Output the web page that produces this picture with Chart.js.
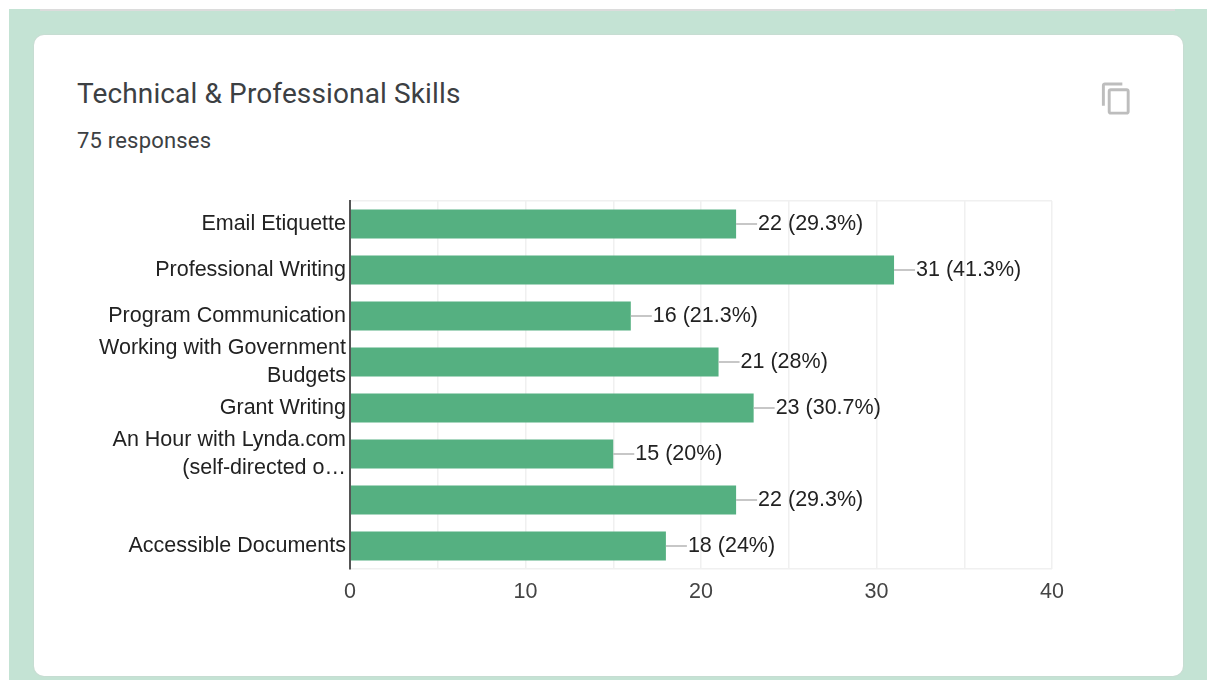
<!DOCTYPE html>
<html>
<head>
<meta charset="utf-8">
<title>Technical & Professional Skills</title>
<script src="https://cdn.jsdelivr.net/npm/chart.js@4/dist/chart.umd.min.js"></script>
<style>
  html, body { margin: 0; padding: 0; width: 1207px; height: 680px; overflow: hidden; background: #fff; }
  .page { position: absolute; left: 9px; top: 9px; width: 1198px; height: 671px; background: #c4e3d4; }
  .topline { position: absolute; left: 31px; top: 0; width: 1135px; height: 1.5px; background: #dcdcdc; }
  .card { position: absolute; left: 34px; top: 35px; width: 1149px; height: 641px; background: #fff;
    border-radius: 10px; box-shadow: 0 0 2px #cfcfcf; }
  .title { position: absolute; left: 77px; top: 77px; font: 28px Roboto, sans-serif; letter-spacing: 0.13px; color: #3c4043; white-space: nowrap; }
  .sub { position: absolute; left: 77px; top: 128px; font: 22px Roboto, sans-serif; letter-spacing: 0.2px; color: #3c4043; white-space: nowrap; }
  .copy { position: absolute; left: 1099px; top: 81px; }
  canvas { position: absolute; left: 34px; top: 35px; }
</style>
</head>
<body>
<div class="page"><div class="topline"></div></div>
<div class="card"></div>
<div class="title">Technical &amp; Professional Skills</div>
<div class="sub">75 responses</div>
<svg class="copy" width="35" height="35" viewBox="0 0 24 24"><path fill="#bdbdbd" d="M16 1H4c-1.1 0-2 .9-2 2v14h2V3h12V1zm3 4H8c-1.1 0-2 .9-2 2v14c0 1.1.9 2 2 2h11c1.1 0 2-.9 2-2V7c0-1.100-.9-2-2-2zm0 16H8V7h11v14z"/></svg>
<canvas id="skillsChart" width="1149" height="641"></canvas>
<script>
const skills = [
  'Email Etiquette',
  'Professional Writing',
  'Program Communication',
  ['Working with Government', 'Budgets'],
  'Grant Writing',
  ['An Hour with Lynda.com', '(self-directed o\u2026'],
  '',
  'Accessible Documents'
];
const counts = [22, 31, 16, 21, 23, 15, 22, 18];
const percents = ['29.3%', '41.3%', '21.3%', '28%', '30.7%', '20%', '29.3%', '24%'];
const xTicks = [0, 10, 20, 30, 40];

const fontFamily = '"Liberation Sans", Arial, sans-serif';
const fontSize = 21.5;

// leader line and "n (p%)" text after each bar
const barLabels = {
  id: 'barLabels',
  afterDatasetsDraw(chart) {
    const c = chart.ctx;
    c.save();
    c.font = fontSize + 'px ' + fontFamily;
    c.textBaseline = 'middle';
    c.textAlign = 'left';
    chart.getDatasetMeta(0).data.forEach((bar, i) => {
      c.strokeStyle = '#b5b5b5';
      c.lineWidth = 1.5;
      c.beginPath();
      c.moveTo(bar.x, bar.y);
      c.lineTo(bar.x + 21, bar.y);
      c.stroke();
      c.fillStyle = '#222';
      c.fillText(counts[i] + ' (' + percents[i] + ')', bar.x + 22, bar.y + 0.5);
    });
    c.restore();
  }
};

new Chart(document.getElementById('skillsChart'), {
  type: 'bar',
  data: {
    labels: skills,
    datasets: [{
      data: counts,
      backgroundColor: '#55b081',
      barPercentage: 0.63,
      categoryPercentage: 1
    }]
  },
  options: {
    indexAxis: 'y',
    responsive: false,
    animation: false,
    layout: { padding: { top: 166, right: 131, left: 0, bottom: 0 } },
    plugins: { legend: { display: false }, tooltip: { enabled: false } },
    scales: {
      x: {
        min: 0,
        max: 40,
        afterFit(scale) { scale.height = 107; },
        ticks: {
          stepSize: 5,
          maxRotation: 0,
          autoSkip: false,
          padding: 10,
          color: '#444',
          font: { family: fontFamily, size: fontSize },
          callback: v => xTicks.includes(v) ? v : ''
        },
        grid: { color: '#f0f0f0', lineWidth: 1.5, drawTicks: false },
        border: { display: false }
      },
      y: {
        afterFit(scale) { scale.width = 316; },
        ticks: {
          autoSkip: false,
          padding: 4,
          color: '#222',
          font: { family: fontFamily, size: fontSize, lineHeight: 1.3 }
        },
        // only the top and bottom edges of the plot get a line
        grid: {
          drawTicks: false,
          lineWidth: 1.5,
          color: ctx => (ctx.index > 0 && ctx.index < skills.length) ? 'rgba(0,0,0,0)' : '#f0f0f0'
        },
        border: { color: '#555', width: 2, z: 1 }
      }
    }
  },
  plugins: [barLabels]
});
</script>
</body>
</html>
